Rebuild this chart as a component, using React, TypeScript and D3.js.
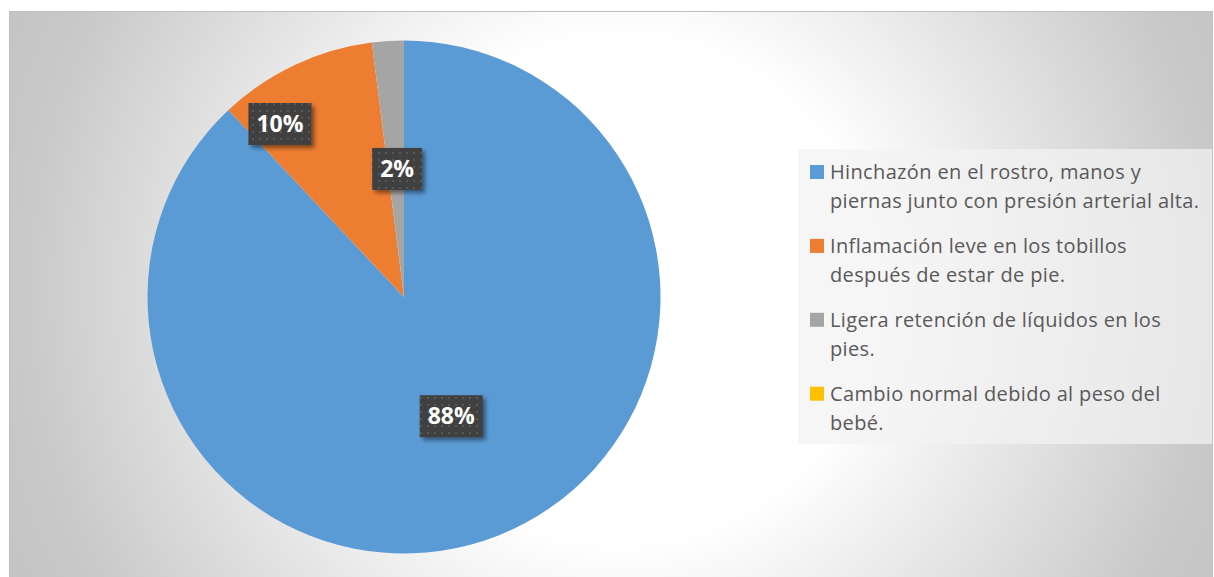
import React from "react";
import * as d3 from "d3";

const categoryLines: string[][] = [
  ["Hinchazón en el rostro, manos y", "piernas junto con presión arterial alta."],
  ["Inflamación leve en los tobillos", "después de estar de pie."],
  ["Ligera retención de líquidos en los", "pies."],
  ["Cambio normal debido al peso del", "bebé."],
];
const values: number[] = [88, 10, 2, 0];
const labels: string[] = ["88%", "10%", "2%", "0%"];
const colors: string[] = ["#5B9BD5", "#ED7D31", "#A5A5A5", "#FFC000"];

// label placement (radius fraction, position within slice's angular span)
const labelPlacement = [
  { r: 0.5, t: 0.5 },
  { r: 0.83, t: 0.21 },
  { r: 0.5, t: 0.57 },
  { r: 0.5, t: 0.5 },
];

export default function App() {
  const W = 1214;
  const H = 577;
  const cx = 404;
  const cy = 297;
  const R = 256.5;

  const pie = d3.pie<number>().sort(null).value((d) => d);
  const arcs = pie(values);
  const arcGen = d3.arc<d3.PieArcDatum<number>>().innerRadius(0).outerRadius(R);

  const labelFont = "bold 23px 'Open Sans'";
  const legendFont = "20px 'Open Sans'";
  const measure = (txt: string, font: string) => {
    const c = document.createElement("canvas").getContext("2d")!;
    c.font = font;
    return c.measureText(txt).width;
  };

  const legendX = 798;
  const legendY = 149;
  const legendW = 414;
  const legendH = 295;
  const itemStart = 179;
  const itemStep = 73.9;
  const lineStep = 29;

  return (
    <svg
      width={W}
      height={H}
      style={{ position: "absolute", left: 0, top: 0 }}
    >
      <defs>
        <radialGradient id="bg" gradientUnits="userSpaceOnUse" cx={620} cy={290} r={700}>
          <stop offset="0" stopColor="#ffffff" />
          <stop offset="0.36" stopColor="#ffffff" />
          <stop offset="0.85" stopColor="#c9c9c9" />
          <stop offset="1" stopColor="#c2c2c2" />
        </radialGradient>
        <pattern id="dots" width={7} height={7} patternUnits="userSpaceOnUse">
          <rect width={7} height={7} fill="#404040" />
          <rect x={2} y={2} width={2} height={2} fill="#585858" />
        </pattern>
        <filter id="shadow" x="-30%" y="-30%" width="160%" height="160%">
          <feDropShadow dx={3} dy={3} stdDeviation={2} floodColor="#000" floodOpacity={0.45} />
        </filter>
      </defs>
      <rect x={9.5} y={11.5} width={1203} height={566} fill="url(#bg)" stroke="#bfbfbf" strokeWidth={1} />
      <g transform={`translate(${cx},${cy})`}>
        {arcs.map((a, i) =>
          a.value > 0 ? <path key={i} d={arcGen(a) || ""} fill={colors[i]} /> : null
        )}
        {arcs.map((a, i) => {
          if (a.value <= 0) return null;
          const p = labelPlacement[i];
          const ang = a.startAngle + (a.endAngle - a.startAngle) * p.t;
          const rr = R * p.r;
          const x = Math.sin(ang) * rr;
          const y = -Math.cos(ang) * rr;
          const tw = measure(labels[i], labelFont);
          const bw = tw + 16;
          const bh = 42;
          return (
            <g key={"l" + i}>
              <rect
                x={x - bw / 2}
                y={y - bh / 2}
                width={bw}
                height={bh}
                fill="url(#dots)"
                filter="url(#shadow)"
              />
              <text
                x={x}
                y={y + 8}
                textAnchor="middle"
                fill="#ffffff"
                style={{ font: labelFont }}
              >
                {labels[i]}
              </text>
            </g>
          );
        })}
      </g>
      <rect x={legendX} y={legendY} width={legendW} height={legendH} fill="#f2f2f2" fillOpacity={0.72} />
      {categoryLines.map((lines, i) => {
        const base = itemStart + i * itemStep;
        return (
          <g key={"g" + i}>
            <rect x={810} y={base - 14} width={14} height={14} fill={colors[i]} />
            {lines.map((ln, j) => (
              <text
                key={j}
                x={830}
                y={base + j * lineStep}
                fill="#595959"
                style={{ font: legendFont, letterSpacing: "0.35px" }}
              >
                {ln}
              </text>
            ))}
          </g>
        );
      })}
    </svg>
  );
}
